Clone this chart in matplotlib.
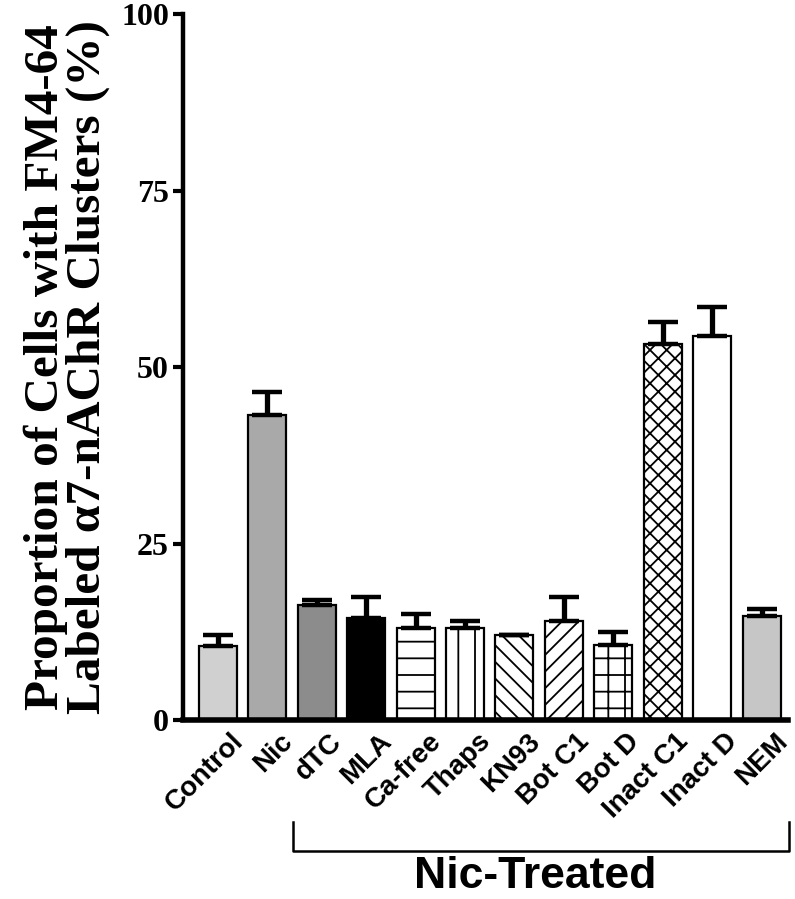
import matplotlib
matplotlib.use("Agg")
import matplotlib.pyplot as plt
import matplotlib.transforms as mtransforms

# ── Data ──────────────────────────────────────────────────────────────────
labels = ["Control", "Nic", "dTC", "MLA", "Ca-free", "Thaps", "KN93",
          "Bot C1", "Bot D", "Inact C1", "Inact D", "NEM"]
means = [10.5, 43.3, 16.3, 14.5, 13.0, 13.0, 12.1, 14.1, 10.6, 53.3, 54.4, 14.8]
sems = [1.5, 3.2, 0.7, 2.9, 2.0, 1.1, 0.0, 3.4, 1.9, 3.1, 4.2, 0.9]
yticks = [0, 25, 50, 75, 100]

# ── Bar styles ────────────────────────────────────────────────────────────
faces = ["#d0d0d0", "#a9a9a9", "#8c8c8c", "black", "white", "white", "white",
         "white", "white", "white", "white", "#c6c6c6"]
hatches = [None, None, None, None, "-", "|", "\\\\", "//", "+", "xx", None, None]

plt.rcParams["hatch.linewidth"] = 1.3
serif = "Liberation Serif"
sans = "Liberation Sans"

fig = plt.figure(figsize=(7.95, 8.99), dpi=100)
ax = fig.add_axes([0.230, 0.199, 0.761, 0.785])

x = list(range(len(labels)))
ax.bar(x, means, width=0.77, color=faces, edgecolor="black",
       linewidth=1.6, hatch=hatches, zorder=2)
ax.errorbar(x, means, yerr=[[0] * len(sems), sems], fmt="none",
            ecolor="black", elinewidth=3.8, capsize=11, capthick=3.2,
            zorder=3)

ax.set_xlim(-0.707, 11.53)
ax.set_ylim(0, 100)

for side in ("top", "right"):
    ax.spines[side].set_visible(False)
ax.spines["left"].set_linewidth(3.2)
ax.spines["bottom"].set_linewidth(4)

ax.set_yticks(yticks)
ax.set_yticklabels([str(t) for t in yticks], fontfamily=serif,
                   fontweight="bold", fontsize=23)
ax.tick_params(axis="y", length=7, width=3, pad=3)

ax.set_xticks(x)
ax.set_xticklabels(labels, rotation=45, ha="right", rotation_mode="anchor",
                   fontfamily=sans, fontweight="bold", fontsize=20)
ax.tick_params(axis="x", length=0, pad=6)
shift = mtransforms.ScaledTranslation(9 / 72, 0, fig.dpi_scale_trans)
for lab in ax.get_xticklabels():
    lab.set_transform(lab.get_transform() + shift)

ax.set_ylabel("Proportion of Cells with FM4-64\nLabeled \u03b17-nAChR Clusters (%)",
              fontfamily=serif, fontweight="bold", fontsize=35.5,
              linespacing=0.93)
ax.yaxis.set_label_coords(-0.12, 0.5)

# ── "Nic-Treated" bracket ─────────────────────────────────────────────────
trans = ax.get_xaxis_transform()
bx0, bx1 = 1.515, 11.557
ax.plot([bx0, bx0, bx1, bx1], [-0.1445, -0.1856, -0.1856, -0.1445],
        color="black", lw=1.8, transform=trans, clip_on=False)
ax.text(6.42, -0.222, "Nic-Treated", transform=trans,
        ha="center", va="center", fontfamily=sans, fontweight="bold",
        fontsize=32)

fig.savefig("out.png", dpi=100)
